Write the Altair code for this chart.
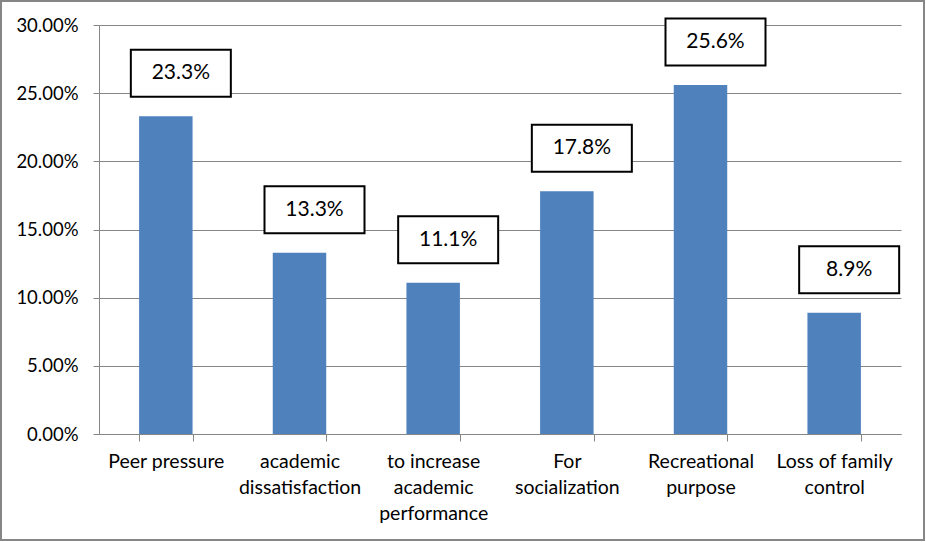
import altair as alt
import pandas as pd

# Reasons reported, with line breaks where the axis labels wrap
categories = [
    "Peer pressure",
    "academic\ndissatisfaction",
    "to increase\nacademic\nperformance",
    "For\nsocialization",
    "Recreational\npurpose",
    "Loss of family\ncontrol",
]
shares = [0.233, 0.133, 0.111, 0.178, 0.256, 0.089]

df = pd.DataFrame({"reason": categories, "share": shares})

FONT = "Lato"
GRID = "#868686"

x_enc = alt.X(
    "reason:N",
    sort=categories,
    title=None,
    scale=alt.Scale(paddingInner=0.6, paddingOuter=0.3),
    axis=alt.Axis(
        labelAngle=0,
        labelExpr="split(datum.label, '\\n')",
        labelLineHeight=26,
        labelFontSize=19.5,
        labelFont=FONT,
        labelColor="black",
        labelPadding=11,
        labelLimit=200,
        tickBand="extent",
        tickSize=7,
        tickColor=GRID,
        domainColor=GRID,
        grid=False,
    ),
)

y_enc = alt.Y(
    "share:Q",
    title=None,
    scale=alt.Scale(domain=[0, 0.3], nice=False),
    axis=alt.Axis(
        values=[0, 0.05, 0.10, 0.15, 0.20, 0.25, 0.30],
        format=".2%",
        labelFontSize=18.5,
        labelFont=FONT,
        labelColor="black",
        labelPadding=15,
        tickSize=6,
        tickColor=GRID,
        domainColor=GRID,
        gridColor=GRID,
        gridWidth=1,
    ),
)

base = alt.Chart(df)

bars = base.mark_bar(color="#4F81BD").encode(x=x_enc, y=y_enc)

# Boxed value labels above each bar
boxes = base.mark_point(
    shape="M-1,-0.47H1V0.47H-1Z",
    size=10000,
    filled=True,
    fill="white",
    stroke="black",
    strokeWidth=2,
    opacity=1,
    xOffset=15,
    yOffset=-43,
).encode(x=alt.X("reason:N", sort=categories), y="share:Q")

values = base.mark_text(
    font=FONT,
    fontSize=21,
    color="black",
    xOffset=15,
    yOffset=-43,
    baseline="middle",
    align="center",
).encode(
    x=alt.X("reason:N", sort=categories),
    y="share:Q",
    text=alt.Text("share:Q", format=".1%"),
)

# Outer frame around the whole figure
frame = alt.Chart(alt.Data(values=[{}])).mark_rect(
    fill=None, stroke=GRID, strokeWidth=2
).encode(
    x=alt.value(-98),
    x2=alt.value(825),
    y=alt.value(-24),
    y2=alt.value(515),
)

chart = (
    alt.layer(bars, boxes, values, frame)
    .properties(
        width=802,
        height=409,
        autosize=alt.AutoSizeParams(type="none"),
        padding={"left": 99, "top": 25, "right": 25, "bottom": 108},
        background="white",
    )
    .configure_view(stroke=None)
)

chart.save("out.html", embed_options={"renderer": "svg", "actions": False})
